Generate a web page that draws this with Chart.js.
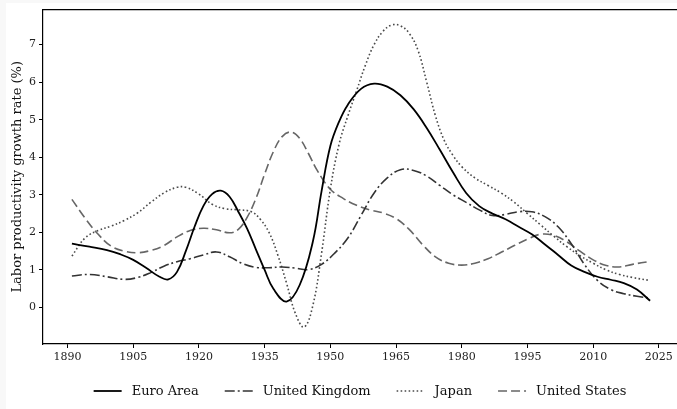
<!DOCTYPE html>
<html>
<head>
<meta charset="utf-8">
<script src="https://cdn.jsdelivr.net/npm/chart.js@4.4.0/dist/chart.umd.min.js"></script>
<style>
  html, body { margin: 0; padding: 0; }
  body { width: 677px; height: 409px; overflow: hidden; background: #f8f8f8; position: relative; }
  #sheet { position: absolute; left: 6px; top: 3px; right: 0; bottom: 0; background: #fff; }
  #chart { position: absolute; left: 0; top: 0; }
</style>
</head>
<body>
<div id="sheet"></div>
<canvas id="chart" width="680" height="409"></canvas>
<script>
const xTicks = [1890, 1905, 1920, 1935, 1950, 1965, 1980, 1995, 2010, 2025];
const yTicks = [0, 1, 2, 3, 4, 5, 6, 7];

const euroYears = [1891, 1895, 1899, 1902, 1905, 1908, 1911, 1913, 1915, 1917, 1919, 1921, 1923, 1925, 1927, 1929, 1931, 1933, 1935, 1937, 1940, 1943, 1946, 1948, 1950, 1952, 1954, 1957, 1960, 1963, 1966, 1969, 1972, 1975, 1978, 1981, 1984, 1987, 1990, 1993, 1996, 1999, 2002, 2005, 2008, 2011, 2014, 2017, 2020, 2023];
const euroValues = [1.70, 1.62, 1.53, 1.42, 1.27, 1.05, 0.82, 0.75, 0.95, 1.50, 2.15, 2.70, 3.02, 3.11, 2.95, 2.55, 2.10, 1.55, 1.00, 0.50, 0.16, 0.60, 1.75, 3.10, 4.30, 4.95, 5.40, 5.82, 5.96, 5.88, 5.65, 5.28, 4.78, 4.20, 3.60, 3.05, 2.70, 2.50, 2.35, 2.15, 1.95, 1.68, 1.40, 1.12, 0.95, 0.82, 0.74, 0.65, 0.48, 0.18];

const ukYears = [1891, 1895, 1899, 1903, 1906, 1909, 1912, 1915, 1918, 1921, 1924, 1927, 1930, 1933, 1936, 1939, 1942, 1945, 1948, 1951, 1954, 1957, 1960, 1963, 1966, 1969, 1972, 1975, 1978, 1981, 1984, 1987, 1990, 1993, 1996, 1999, 2002, 2005, 2008, 2011, 2014, 2017, 2020, 2023];
const ukValues = [0.84, 0.88, 0.82, 0.75, 0.80, 0.93, 1.10, 1.22, 1.30, 1.40, 1.48, 1.35, 1.17, 1.07, 1.06, 1.08, 1.05, 1.01, 1.15, 1.45, 1.85, 2.45, 3.05, 3.45, 3.67, 3.65, 3.50, 3.25, 3.00, 2.80, 2.60, 2.45, 2.48, 2.55, 2.55, 2.42, 2.15, 1.70, 1.15, 0.72, 0.48, 0.37, 0.30, 0.25];

const japanYears = [1891, 1894, 1897, 1900, 1903, 1906, 1909, 1912, 1915, 1917, 1920, 1923, 1926, 1929, 1932, 1934, 1936, 1938, 1940, 1942, 1944, 1946, 1948, 1950, 1952, 1954, 1956, 1958, 1960, 1962, 1964, 1966, 1968, 1970, 1972, 1974, 1976, 1978, 1980, 1983, 1986, 1989, 1992, 1995, 1998, 2001, 2004, 2007, 2010, 2013, 2016, 2019, 2023];
const japanValues = [1.37, 1.85, 2.05, 2.17, 2.32, 2.52, 2.80, 3.05, 3.20, 3.20, 3.02, 2.75, 2.63, 2.60, 2.55, 2.35, 2.00, 1.40, 0.65, -0.15, -0.52, 0.05, 1.45, 3.15, 4.35, 5.10, 5.77, 6.45, 7.00, 7.35, 7.52, 7.50, 7.30, 6.85, 6.00, 5.10, 4.45, 4.05, 3.75, 3.45, 3.25, 3.05, 2.80, 2.50, 2.20, 1.90, 1.62, 1.38, 1.18, 1.00, 0.88, 0.80, 0.72];

const usYears = [1891, 1894, 1897, 1900, 1903, 1906, 1909, 1912, 1915, 1918, 1921, 1924, 1927, 1929, 1931, 1933, 1935, 1937, 1939, 1941, 1943, 1945, 1947, 1950, 1953, 1956, 1959, 1962, 1965, 1968, 1971, 1974, 1977, 1980, 1983, 1986, 1989, 1992, 1995, 1998, 2001, 2004, 2007, 2010, 2013, 2016, 2019, 2023];
const usValues = [2.88, 2.38, 1.95, 1.63, 1.50, 1.46, 1.52, 1.65, 1.88, 2.05, 2.11, 2.07, 1.99, 2.08, 2.40, 2.90, 3.55, 4.15, 4.55, 4.67, 4.50, 4.10, 3.65, 3.15, 2.90, 2.72, 2.60, 2.52, 2.37, 2.08, 1.68, 1.35, 1.18, 1.13, 1.18, 1.30, 1.47, 1.65, 1.82, 1.95, 1.92, 1.75, 1.50, 1.27, 1.12, 1.08, 1.15, 1.23];

const FONT = '"DejaVu Serif", "Liberation Serif", serif';

function toPoints(years, values) {
  return years.map((year, i) => ({ x: year, y: values[i] }));
}

function lineSet(label, years, values, color, width, dash) {
  return {
    label,
    data: toPoints(years, values),
    borderColor: color,
    borderWidth: width,
    borderDash: dash,
    borderCapStyle: 'butt',
    pointRadius: 0,
    fill: false,
    tension: 0.4
  };
}

// legend under the plot, drawn from the datasets' own styles
const legendBelow = {
  id: 'legendBelow',
  afterDraw(chart) {
    const ctx = chart.ctx;
    const sample = 28, gap = 10, spacing = 26, centerX = 360, y = 391;
    ctx.save();
    ctx.font = '13px ' + FONT;
    ctx.textBaseline = 'middle';
    const sets = chart.data.datasets;
    const widths = sets.map(d => sample + gap + ctx.measureText(d.label).width);
    const total = widths.reduce((a, b) => a + b, 0) + spacing * (sets.length - 1);
    let x = centerX - total / 2;
    sets.forEach((d, i) => {
      ctx.beginPath();
      ctx.strokeStyle = d.borderColor;
      ctx.lineWidth = d.borderWidth;
      ctx.setLineDash(d.borderDash);
      ctx.moveTo(x, y);
      ctx.lineTo(x + sample, y);
      ctx.stroke();
      ctx.setLineDash([]);
      ctx.fillStyle = '#111';
      ctx.fillText(d.label, x + sample + gap, y + 1);
      x += widths[i] + spacing;
    });
    ctx.restore();
  }
};

const tickFont = { family: FONT, size: 11 };

new Chart(document.getElementById('chart'), {
  type: 'line',
  data: {
    datasets: [
      lineSet('Euro Area', euroYears, euroValues, '#000000', 1.8, []),
      lineSet('United Kingdom', ukYears, ukValues, '#333333', 1.6, [10, 3, 2, 3]),
      lineSet('Japan', japanYears, japanValues, '#4a4a4a', 1.6, [1.6, 2.4]),
      lineSet('United States', usYears, usValues, '#666666', 1.6, [9, 4])
    ]
  },
  plugins: [legendBelow],
  options: {
    responsive: false,
    animation: false,
    events: [],
    layout: { padding: { top: 9, right: 1, left: 0, bottom: 0 } },
    plugins: {
      legend: { display: false },
      tooltip: { enabled: false }
    },
    scales: {
      x: {
        type: 'linear',
        min: 1884.4,
        max: 2029.6,
        afterBuildTicks: s => { s.ticks = xTicks.map(v => ({ value: v })); },
        afterFit: s => { s.height = 65; },
        ticks: { font: tickFont, color: '#222', padding: 3, maxRotation: 0, callback: v => String(v) },
        grid: { drawOnChartArea: false, drawTicks: true, tickLength: 4, color: '#000', lineWidth: 1 },
        border: { display: true, color: '#000', width: 1.2 }
      },
      xTop: {
        type: 'linear',
        position: 'top',
        min: 1884.4,
        max: 2029.6,
        afterFit: s => { s.height = 0; },
        ticks: { display: false },
        grid: { display: false },
        border: { display: true, color: '#000', width: 1.2 }
      },
      y: {
        min: -0.97,
        max: 7.93,
        afterBuildTicks: s => { s.ticks = yTicks.map(v => ({ value: v })); },
        afterFit: s => { s.width = 43; },
        ticks: { font: tickFont, color: '#222', padding: 3 },
        grid: { drawOnChartArea: false, drawTicks: true, tickLength: 4, color: '#000', lineWidth: 1 },
        border: { display: true, color: '#000', width: 1.2 },
        title: {
          display: true,
          text: 'Labor productivity growth rate (%)',
          font: { family: FONT, size: 13 },
          color: '#111',
          padding: { top: 10, bottom: 0 }
        }
      }
    }
  }
});
</script>
</body>
</html>
